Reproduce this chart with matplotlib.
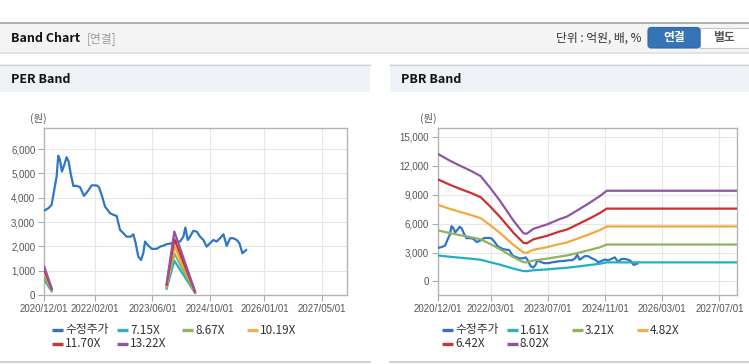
import matplotlib.pyplot as plt
import numpy as np
import pandas as pd
from matplotlib.patches import Rectangle, FancyBboxPatch

plt.rcParams['font.family'] = ['Noto Sans CJK KR', 'DejaVu Sans']

# price (수정주가), same in both charts
price_dates = ['2020-12-01', '2021-01-04', '2021-02-01', '2021-02-23', '2021-03-15', '2021-03-29',
               '2021-04-12', '2021-04-29', '2021-05-19', '2021-06-07', '2021-06-24', '2021-07-11',
               '2021-08-03', '2021-08-31', '2021-09-28', '2021-11-01', '2021-12-07', '2022-01-04',
               '2022-02-16', '2022-03-07', '2022-03-30', '2022-04-27', '2022-06-08', '2022-07-06',
               '2022-08-03', '2022-09-01', '2022-09-29', '2022-10-27', '2022-11-30', '2022-12-22',
               '2023-01-11', '2023-02-02', '2023-02-25', '2023-03-16', '2023-03-31', '2023-04-22',
               '2023-05-26', '2023-07-07', '2023-08-04', '2023-09-01', '2023-09-29', '2023-11-11',
               '2023-12-23', '2024-01-20', '2024-02-17', '2024-03-05', '2024-03-25', '2024-04-13',
               '2024-05-11', '2024-06-09', '2024-07-07', '2024-08-04', '2024-09-01', '2024-09-29',
               '2024-10-27', '2024-11-24', '2024-12-22', '2025-01-20', '2025-02-17', '2025-03-17',
               '2025-04-14', '2025-05-12', '2025-06-04', '2025-06-29', '2025-07-30']
price = [3475, 3570, 3710, 4330, 4880, 5730, 5560, 5080, 5360, 5670, 5500, 5010, 4490, 4490, 4440,
         4080, 4300, 4510, 4510, 4440, 4120, 3640, 3370, 3300, 3255, 2680, 2540, 2400, 2400, 2500,
         2130, 1580, 1440, 1720, 2200, 2060, 1900, 1900, 1990, 2030, 2090, 2130, 2200, 2200, 2400,
         2775, 2265, 2400, 2640, 2610, 2400, 2265, 1990, 2130, 2265, 2200, 2335, 2500, 2020, 2335,
         2335, 2265, 2130, 1720, 1850]

# PER bands (gap in the middle)
per_dates = ['2020-12-01', '2021-02-01', '2022-06-01', '2023-09-29', '2023-12-03', '2024-05-25']
per_labels = ['7.15X', '8.67X', '10.19X', '11.70X', '13.22X']
per_bands = [
    [630, 150, np.nan, 257, 1410, 86],
    [763, 182, np.nan, 312, 1710, 104],
    [897, 214, np.nan, 367, 2010, 122],
    [1030, 246, np.nan, 421, 2300, 140],
    [1163, 278, np.nan, 476, 2610, 159],
]

# PBR bands
pbr_dates = ['2020-12-01', '2021-03-16', '2021-06-09', '2021-09-17', '2021-12-03', '2022-02-21',
             '2022-05-17', '2022-09-08', '2022-12-02', '2022-12-30', '2023-02-25', '2023-06-19',
             '2023-10-11', '2023-12-07', '2024-03-01', '2024-06-23', '2024-09-16', '2024-11-12',
             '2027-12-01']
pbr_labels = ['1.61X', '3.21X', '4.82X', '6.42X', '8.02X']
pbr_bands = [
    [2700, 2560, 2460, 2350, 2250, 2000, 1740, 1330, 1080, 1070, 1160, 1250, 1370, 1420, 1540, 1710, 1840, 1980, 1980],
    [5300, 5010, 4800, 4570, 4370, 3890, 3340, 2520, 2000, 1980, 2180, 2360, 2590, 2690, 2930, 3270, 3550, 3830, 3830],
    [7950, 7520, 7210, 6860, 6560, 5840, 5020, 3790, 3010, 2970, 3280, 3550, 3890, 4040, 4410, 4920, 5330, 5700, 5700],
    [10590, 10010, 9600, 9140, 8730, 7780, 6680, 5050, 4010, 3950, 4370, 4720, 5190, 5370, 5870, 6550, 7100, 7550, 7550],
    [13230, 12510, 12000, 11420, 10910, 9715, 8350, 6310, 5010, 4940, 5455, 5900, 6480, 6715, 7330, 8180, 8865, 9400, 9400],
]

per_xticks = ['2020/12/01', '2022/02/01', '2023/06/01', '2024/10/01', '2026/01/01', '2027/05/01']
pbr_xticks = ['2020/12/01', '2022/03/01', '2023/07/01', '2024/11/01', '2026/03/01', '2027/07/01']
per_yticks = [0, 1000, 2000, 3000, 4000, 5000, 6000]
pbr_yticks = [0, 3000, 6000, 9000, 12000, 15000]

price_color = '#2f76c9'
band_colors = ['#1fb0c4', '#8fb35e', '#f2a93b', '#cc3030', '#8f55a3']
legend_colors = ['#3a6fb0', '#3aaeb8', '#8fb35e', '#e9b24f', '#c23b35', '#8d579c']

W, H = 749, 364
fig = plt.figure(figsize=(W / 100, H / 100), dpi=100)
bg = fig.add_axes([0, 0, 1, 1])
bg.set_xlim(0, W)
bg.set_ylim(H, 0)
bg.axis('off')

# top header
bg.add_patch(Rectangle((0, 22), W, 30, fc='#f4f4f4', ec='none'))
bg.plot([0, W], [22.5, 22.5], color='#a9a9a9', lw=1.3)
bg.plot([0, W], [52.5, 52.5], color='#dddddd', lw=1.2)
bg.text(11, 38.5, 'Band Chart', fontsize=9, fontweight='bold', va='center', color='#111')
bg.text(87, 38.5, '[연결]', fontsize=8.5, va='center', color='#999999')
bg.text(642, 38.5, '단위 : 억원, 배, %', fontsize=8.5, va='center', ha='right', color='#333')
bg.add_patch(Rectangle((700, 27.5), 55, 20.5, fc='white', ec='#c8c8c8', lw=0.8))
bg.add_patch(FancyBboxPatch((648, 27.5), 52, 20.5, boxstyle='round,pad=0,rounding_size=3',
                            fc='#3574b6', ec='#2e68a5', lw=0.8))
bg.text(674, 37.5, '연결', fontsize=8.5, fontweight='bold', color='white', ha='center', va='center')
bg.text(724, 37.5, '별도', fontsize=8.5, fontweight='bold', color='#555', ha='center', va='center')

# panel headers and bottom borders
for px, pw, title in [(0, 370, 'PER Band'), (390, 359, 'PBR Band')]:
    bg.add_patch(Rectangle((px, 64), pw, 28, fc='#eef2f7', ec='none'))
    bg.plot([px, px + pw], [64.5, 64.5], color='#d2d2d2', lw=1)
    bg.plot([px, px + pw], [362, 362], color='#d2d2d2', lw=1.5)
    bg.text(px + 11, 79.5, title, fontsize=9, fontweight='bold', va='center', color='#111')
    bg.text(px + 30, 118, '(원)', fontsize=7.5, va='center', color='#555')


def draw_chart(rect, band_dates, bands, labels, xticks, yticks, ylim):
    ax = fig.add_axes(rect)
    ax.plot(pd.to_datetime(price_dates), price, color=price_color, lw=1.6, zorder=3)
    for vals, col in zip(bands, band_colors):
        ax.plot(pd.to_datetime(band_dates), vals, color=col, lw=1.6, zorder=3)
    ax.set_xlim(pd.Timestamp('2020-12-01'), pd.Timestamp('2027-12-01'))
    ax.set_ylim(*ylim)
    ax.set_xticks(pd.to_datetime([t.replace('/', '-') for t in xticks]), xticks)
    ax.set_yticks(yticks, [f'{v:,}' for v in yticks])
    ax.grid(True, color='#e6e6e6', lw=0.8)
    ax.set_axisbelow(True)
    for s in ax.spines.values():
        s.set_color('#b4b4b4')
        s.set_linewidth(1)
    ax.tick_params(length=4, width=0.8, color='#aaaaaa', labelsize=7, labelcolor='#555555', pad=2.5)
    for lab in ax.get_xticklabels() + ax.get_yticklabels():
        lab.set_fontfamily('Liberation Sans')
    return ax


draw_chart([44.3 / W, 69 / H, 303 / W, 166.7 / H], per_dates, per_bands, per_labels,
           per_xticks, per_yticks, (0, 6860))
draw_chart([437.7 / W, 69 / H, 299.6 / W, 166.7 / H], pbr_dates, pbr_bands, pbr_labels,
           pbr_xticks, pbr_yticks, (-1400, 15870))

# legends
for px, labels in [(0, per_labels), (390, pbr_labels)]:
    names = ['수정주가'] + labels
    for i, (name, col) in enumerate(zip(names, legend_colors)):
        x0 = px + 52 + 65 * (i % 4)
        y0 = 330 + 13.5 * (i // 4)
        bg.plot([x0, x0 + 11], [y0, y0], color=col, lw=2.4, solid_capstyle='butt')
        bg.text(x0 + 13, y0, name, fontsize=8.5, va='center', color='#333')

fig.savefig('out.png', dpi=100)
